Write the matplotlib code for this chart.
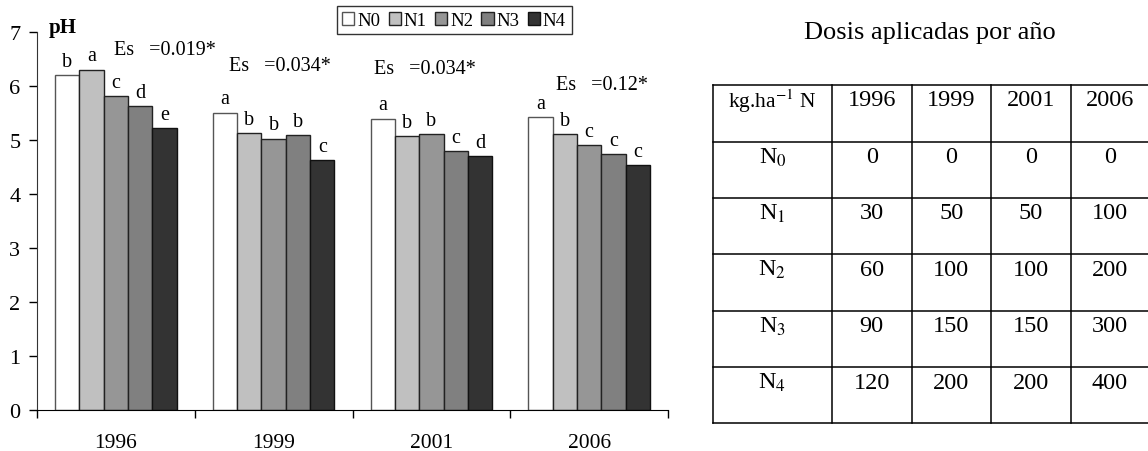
import numpy as np
import matplotlib.pyplot as plt
from matplotlib.patches import Patch

plt.rcParams['font.family'] = ['Liberation Serif', 'DejaVu Serif']
plt.rcParams['mathtext.fontset'] = 'stix'

# Data
years = ["1996", "1999", "2001", "2006"]
treatments = ["N0", "N1", "N2", "N3", "N4"]
ph = {
    "N0": [6.20, 5.51, 5.40, 5.43],
    "N1": [6.31, 5.13, 5.08, 5.11],
    "N2": [5.81, 5.03, 5.11, 4.91],
    "N3": [5.63, 5.10, 4.79, 4.74],
    "N4": [5.23, 4.63, 4.71, 4.53],
}
letters = {
    "N0": ["b", "a", "a", "a"],
    "N1": ["a", "b", "b", "b"],
    "N2": ["c", "b", "b", "c"],
    "N3": ["d", "b", "c", "c"],
    "N4": ["e", "c", "d", "c"],
}
es_values = ["0.019", "0.034", "0.034", "0.12"]

# Table data
table_header = ["kg.ha$^{-1}$ N", "1996", "1999", "2001", "2006"]
table_rows = ["N$_0$", "N$_1$", "N$_2$", "N$_3$", "N$_4$"]
doses = [
    [0, 0, 0, 0],
    [30, 50, 50, 100],
    [60, 100, 100, 200],
    [90, 150, 150, 300],
    [120, 200, 200, 400],
]

colors = ["#ffffff", "#c0c0c0", "#969696", "#808080", "#333333"]
edges = ["#555555", "#222222", "#222222", "#222222", "#111111"]

# Figure
fig = plt.figure(figsize=(11.48, 4.52), dpi=100)
ax = fig.add_axes([37 / 1148, 1 - 410.7 / 452, 631 / 1148, 377.4 / 452])

bw = 0.154
x = np.arange(len(years)) + 0.5
for i, t in enumerate(treatments):
    xs = x + (i - 2) * bw
    ax.bar(xs, ph[t], width=bw, color=colors[i], edgecolor=edges[i], linewidth=1.0)
    for xi, v, lab in zip(xs, ph[t], letters[t]):
        ax.annotate(lab, (xi, v), xytext=(0, 3), textcoords="offset points",
                    ha="center", va="bottom", fontsize=14.5)

# Es labels
es_pos = [(0.81, 6.69), (1.54, 6.38), (2.46, 6.32), (3.58, 6.04)]
for (ex, ey), val in zip(es_pos, es_values):
    ax.text(ex, ey, "Es   =" + val + "*", ha="center", va="center", fontsize=14.5)

ax.set_xlim(0, 4)
ax.set_ylim(0, 7)
ax.set_yticks(range(0, 8))
ax.set_xticks(range(0, 5))
ax.set_xticklabels([])
ax.set_xticks(x, minor=True)
ax.set_xticklabels(years, minor=True, fontsize=15.5)
ax.tick_params(axis="x", which="minor", length=0, pad=17)
ax.tick_params(axis="x", which="major", direction="out", length=6, width=1)
ax.tick_params(axis="y", direction="out", length=6, width=1, labelsize=16, pad=6)
ax.spines["top"].set_visible(False)
ax.spines["right"].set_visible(False)
ax.spines["left"].set_color("#333333")
ax.text(0.018, 7.1, "pH", fontsize=15, fontweight="bold", ha="left", va="center",
        transform=ax.get_yaxis_transform())

handles = [Patch(facecolor=colors[i], edgecolor=edges[i], label=t) for i, t in enumerate(treatments)]
leg = fig.legend(handles=handles, loc="upper center", bbox_to_anchor=(454 / 1148, 1 - 7 / 452),
                 ncol=5, fontsize=13.5, handlelength=0.65, handleheight=0.7, handletextpad=0.15,
                 columnspacing=0.45, borderpad=0.3, borderaxespad=0, fancybox=False,
                 frameon=True)
leg.get_frame().set_edgecolor("black")
leg.get_frame().set_linewidth(1.0)

# Table drawn in pixel coordinates
tax = fig.add_axes([0, 0, 1, 1])
tax.set_xlim(0, 1148)
tax.set_ylim(452, 0)
tax.axis("off")

col_edges = [713.3, 831.7, 911.7, 990.7, 1070.7, 1150]
row_edges = [86, 142.7, 198.7, 255.3, 311.7, 368.3, 424.3]
for cx in col_edges:
    tax.plot([cx, cx], [row_edges[0], row_edges[-1]], color="black", lw=1.1)
for ry in row_edges:
    tax.plot([col_edges[0], col_edges[-1]], [ry, ry], color="black", lw=1.1)

tax.text(930, 33, "Dosis aplicadas por año", ha="center", va="center", fontsize=19)

centers = [(a + b) / 2 for a, b in zip(col_edges[:-1], col_edges[1:])]
centers[-1] = 1110
for j, h in enumerate(table_header):
    tax.text(centers[j], row_edges[0] + 15, h, ha="center", va="center",
             fontsize=15.5 if j == 0 else 17.5)
for r, (name, vals) in enumerate(zip(table_rows, doses)):
    yy = row_edges[r + 1] + 15
    tax.text(centers[0], yy, name, ha="center", va="center", fontsize=17.5)
    for j, v in enumerate(vals):
        tax.text(centers[j + 1], yy, str(v), ha="center", va="center", fontsize=17.5)

fig.savefig("out.png", dpi=100)
